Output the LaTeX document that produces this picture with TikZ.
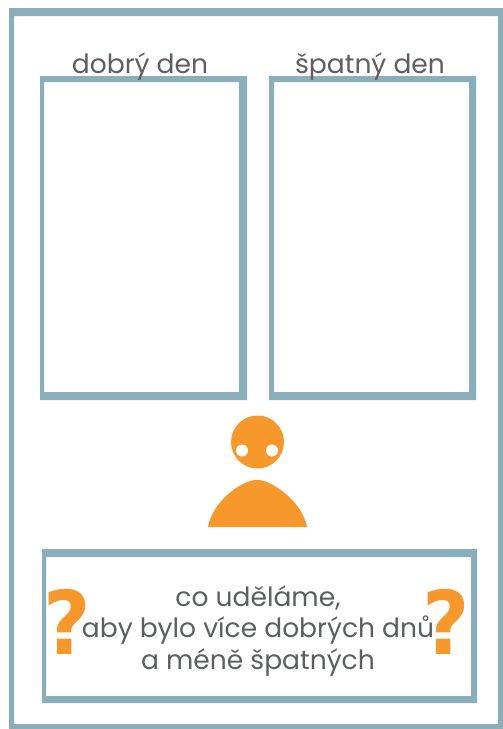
\documentclass[tikz,border=0pt]{standalone}
\usepackage{fontspec}
\setmainfont{Poppins}
\newfontface\questfont{DejaVu Sans Bold}
\definecolor{frameblue}{RGB}{139,174,187}
\definecolor{personorange}{RGB}{247,152,45}
\definecolor{labelgray}{RGB}{92,95,97}
\tikzset{
  frameband/.style={fill=frameblue,even odd rule},
  figurepart/.style={fill=personorange},
  caption/.style={text=labelgray,font=\fontsize{19.9}{23.6}\selectfont,align=center,inner sep=0pt},
  quest/.style={text=personorange,font=\questfont\fontsize{66}{66}\selectfont,inner sep=0pt,xscale=0.93}
}
\begin{document}
\begin{tikzpicture}[x=0.75pt,y=-0.75pt]
\useasboundingbox (0,0) rectangle (503,729);
\fill[white] (0,0) rectangle (503,729);
\fill[frameband] (9,8) rectangle (503,729) (14,16) rectangle (498,724);
\fill[frameband] (40,76) rectangle (247,400) (44,82) rectangle (239,392);
\fill[frameband] (269,76) rectangle (476,400) (274,82) rectangle (469,392);
\fill[frameband] (42,549) rectangle (477,703) (46,557) rectangle (471,696);
\node[caption] (good) at (140,67) {dobrý den};
\node[caption] (bad) at (370,67) {špatný den};
\node[caption] (question) at (258,631) {co uděláme,\\aby bylo více dobrých dnů\\a méně špatných};
\fill[figurepart] (257.5,442) circle (26.5);
\fill[white] (242,450.5) circle (6) (272,450.5) circle (6);
\fill[figurepart] (208,527) .. controls (211,510) and (226,492) .. (245,483) .. controls (253,479) and (261,479) .. (269,483) .. controls (288,492) and (304,510) .. (307,527) -- cycle;
\node[quest] (ql) at (67,622) {?};
\node[quest] (qr) at (446,622) {?};
\end{tikzpicture}
\end{document}
